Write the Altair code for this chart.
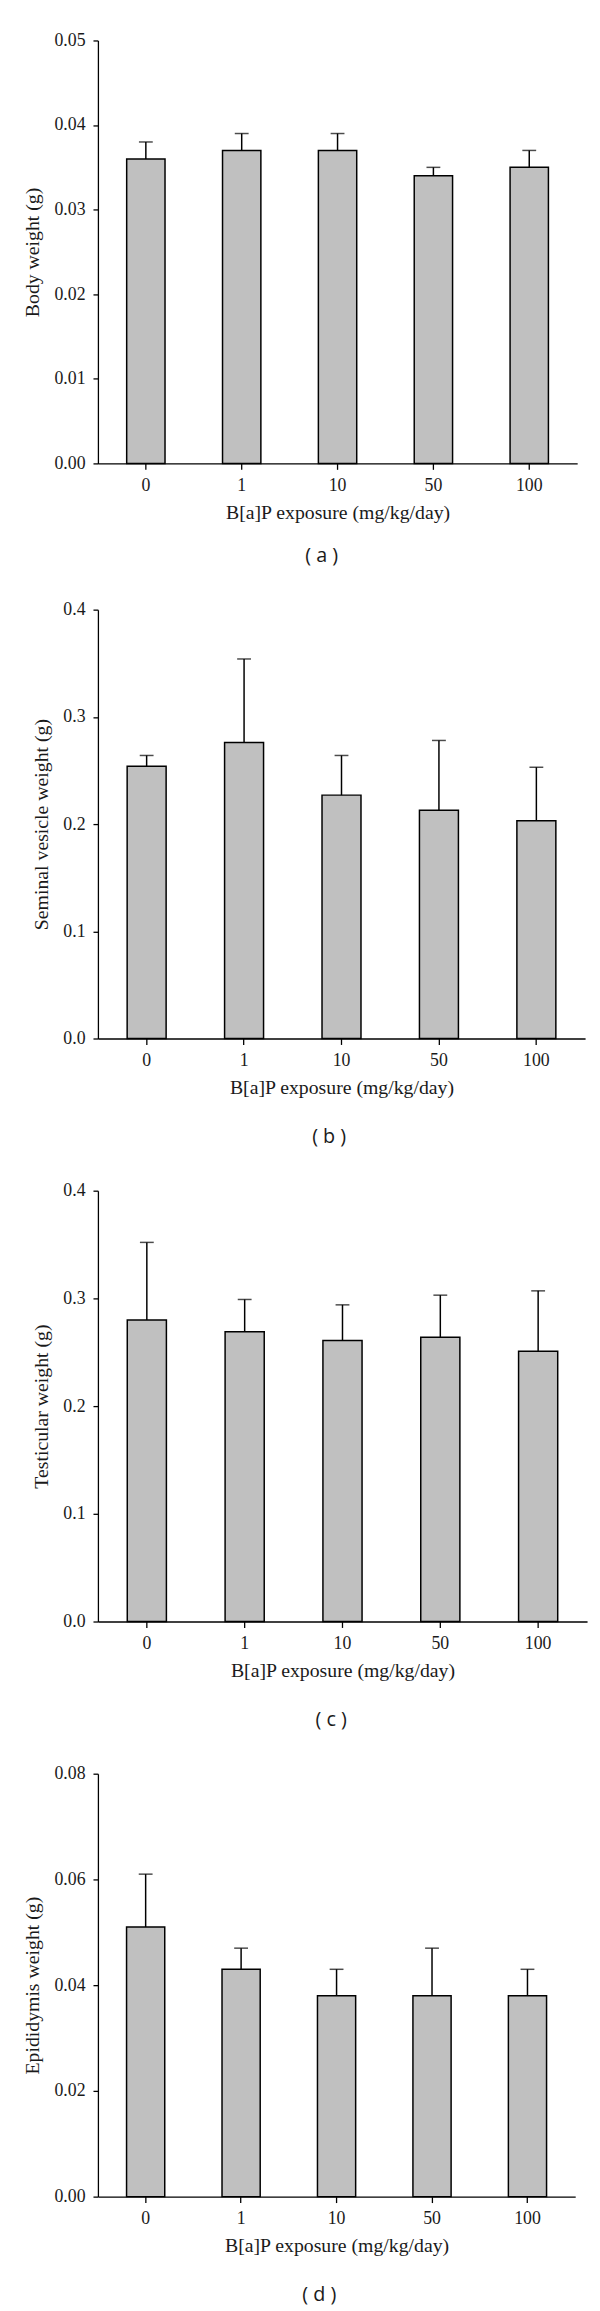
import altair as alt
import pandas as pd

doses = ["0", "1", "10", "50", "100"]

body_mean = [0.036, 0.037, 0.037, 0.034, 0.035]
body_err = [0.002, 0.002, 0.002, 0.001, 0.002]

sv_mean = [0.254, 0.276, 0.227, 0.213, 0.203]
sv_err = [0.010, 0.078, 0.037, 0.065, 0.050]

test_mean = [0.280, 0.269, 0.261, 0.264, 0.251]
test_err = [0.072, 0.030, 0.033, 0.039, 0.056]

epi_mean = [0.051, 0.043, 0.038, 0.038, 0.038]
epi_err = [0.010, 0.004, 0.005, 0.009, 0.005]

y_titles = ["Body weight (g)", "Seminal vesicle weight (g)",
            "Testicular weight (g)", "Epididymis weight (g)"]
y_ticks = [
    [0.00, 0.01, 0.02, 0.03, 0.04, 0.05],
    [0.0, 0.1, 0.2, 0.3, 0.4],
    [0.0, 0.1, 0.2, 0.3, 0.4],
    [0.00, 0.02, 0.04, 0.06, 0.08],
]
y_formats = [".2f", ".1f", ".1f", ".2f"]
tags = ["( a )", "( b )", "( c )", "( d )"]
x_title = "B[a]P exposure (mg/kg/day)"

means = [body_mean, sv_mean, test_mean, epi_mean]
errs = [body_err, sv_err, test_err, epi_err]

# layout (sizes only)
widths = [485, 493, 495, 483]
heights = [428, 434, 436, 428]
tag_dx = [-16, -12.5, -11.5, -17.5]
tag_offset = [24, 30, 30, 30]

SERIF = "Liberation Serif"
TXT = "#1a1a1a"


def panel(i):
    df = pd.DataFrame({"dose": doses, "mean": means[i], "err": errs[i]})
    base = alt.Chart(df).transform_calculate(upper="datum.mean + datum.err")
    x = alt.X(
        "dose:N",
        sort=doses,
        scale=alt.Scale(paddingInner=0.6, paddingOuter=0.3),
        axis=alt.Axis(
            title=x_title, labelAngle=0, tickSize=6, labelPadding=7,
            titlePadding=9,
        ),
    )
    ymax = y_ticks[i][-1]
    y = alt.Y(
        "mean:Q",
        scale=alt.Scale(domain=[0, ymax], nice=False, zero=True),
        axis=alt.Axis(
            title=y_titles[i], values=y_ticks[i], format=y_formats[i],
            tickSize=5, labelPadding=8, titlePadding=12, grid=False,
        ),
    )
    bars = base.mark_bar(fill="#c0c0c0", stroke="black", strokeWidth=1.5).encode(x=x, y=y)
    rule = base.mark_rule(color="black", strokeWidth=1.5).encode(
        x=alt.X("dose:N", sort=doses), y="mean:Q", y2="upper:Q"
    )
    cap = base.mark_tick(color="black", size=14, thickness=1.5, orient="horizontal").encode(
        x=alt.X("dose:N", sort=doses), y="upper:Q"
    )
    return alt.layer(bars, rule, cap).properties(
        width=widths[i],
        height=heights[i],
        title=alt.TitleParams(
            text=tags[i], orient="bottom", anchor="middle", frame="group",
            dx=tag_dx[i], offset=tag_offset[i], font="Open Sans",
            fontSize=20, fontWeight="normal", color=TXT,
        ),
    )


chart = alt.vconcat(*[panel(i) for i in range(4)], spacing=35).properties(
    padding={"left": 14, "top": 10, "right": 5, "bottom": 2}
).configure_view(stroke=None).configure_axis(
    domainColor="black", domainWidth=1.3, tickColor="black", tickWidth=1.3,
    labelFont=SERIF, labelFontSize=18, labelColor=TXT,
    titleFont=SERIF, titleFontSize=20, titleFontWeight="normal", titleColor=TXT,
)

chart.save("out.html", embed_options={"renderer": "svg", "actions": False})
